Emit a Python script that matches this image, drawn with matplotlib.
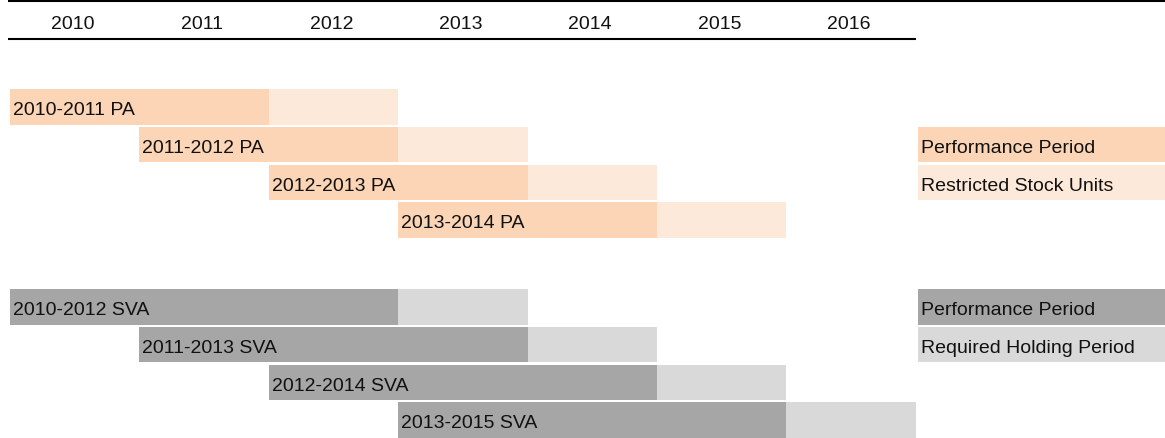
import matplotlib
matplotlib.use("Agg")
import matplotlib.pyplot as plt

plt.rcParams['font.family'] = ['Liberation Sans', 'DejaVu Sans']

# ---- data ----
years = [2010, 2011, 2012, 2013, 2014, 2015, 2016]

pa_labels = ['2010-2011 PA', '2011-2012 PA', '2012-2013 PA', '2013-2014 PA']
pa_start = [2010, 2011, 2012, 2013]
pa_perf_years = [2, 2, 2, 2]
pa_rsu_years = [1, 1, 1, 1]

sva_labels = ['2010-2012 SVA', '2011-2013 SVA', '2012-2014 SVA', '2013-2015 SVA']
sva_start = [2010, 2011, 2012, 2013]
sva_perf_years = [3, 3, 3, 3]
sva_hold_years = [1, 1, 1, 1]

pa_legend = ['Performance Period', 'Restricted Stock Units']
sva_legend = ['Performance Period', 'Required Holding Period']

# ---- style ----
C_PA_DARK = '#FBD5B5'
C_PA_LIGHT = '#FDE9D9'
C_SVA_DARK = '#A6A6A6'
C_SVA_LIGHT = '#D9D9D9'
TXT = '#111111'
FS = 14.0

W, H = 1165, 439
fig = plt.figure(figsize=(W / 100, H / 100), dpi=100)
ax = fig.add_axes([0, 0, 1, 1])
ax.axis('off')

px_per_year = 129.4
x0_px = 10
x_left = years[0] - x0_px / px_per_year
x_right = years[0] + (W - x0_px) / px_per_year
ax.set_xlim(x_left, x_right)
ax.set_ylim(H, 0)

def px(p):
    return p / px_per_year

end_year = years[-1] + 1

# header lines
ax.plot([x_left + px(8), x_right], [2, 2], color='black', lw=1.5, solid_capstyle='butt')
ax.plot([x_left + px(8), end_year], [40, 40], color='black', lw=1.5, solid_capstyle='butt')
for y in years:
    ax.text(y + 0.5 - px(2), 29.3, str(y), ha='center', va='baseline', fontsize=FS, color=TXT)

bar_h = 35.5
pitch = 37.8

def draw_group(top0, labels, starts, dark_len, light_len, cdark, clight):
    for i, (lab, s, d, l) in enumerate(zip(labels, starts, dark_len, light_len)):
        top = top0 + i * pitch
        ax.barh(top, d, left=s, height=bar_h, align='edge', color=cdark, lw=0)
        ax.barh(top, l, left=s + d, height=bar_h, align='edge', color=clight, lw=0)
        ax.text(s + px(2.7), top + 25, lab, ha='left', va='baseline', fontsize=FS, color=TXT)

draw_group(90, pa_labels, pa_start, pa_perf_years, pa_rsu_years, C_PA_DARK, C_PA_LIGHT)
draw_group(290, sva_labels, sva_start, sva_perf_years, sva_hold_years, C_SVA_DARK, C_SVA_LIGHT)

# legends
leg_left = end_year + px(2)
leg_w = x_right - leg_left
def draw_legend(top0, labels, colors):
    for i, (lab, c) in enumerate(zip(labels, colors)):
        top = top0 + i * pitch
        ax.barh(top, leg_w, left=leg_left, height=bar_h, align='edge', color=c, lw=0)
        ax.text(leg_left + px(3.5), top + 25, lab, ha='left', va='baseline', fontsize=FS, color=TXT)

draw_legend(90 + pitch, pa_legend, [C_PA_DARK, C_PA_LIGHT])
draw_legend(290, sva_legend, [C_SVA_DARK, C_SVA_LIGHT])

fig.savefig('out.png', dpi=100)
